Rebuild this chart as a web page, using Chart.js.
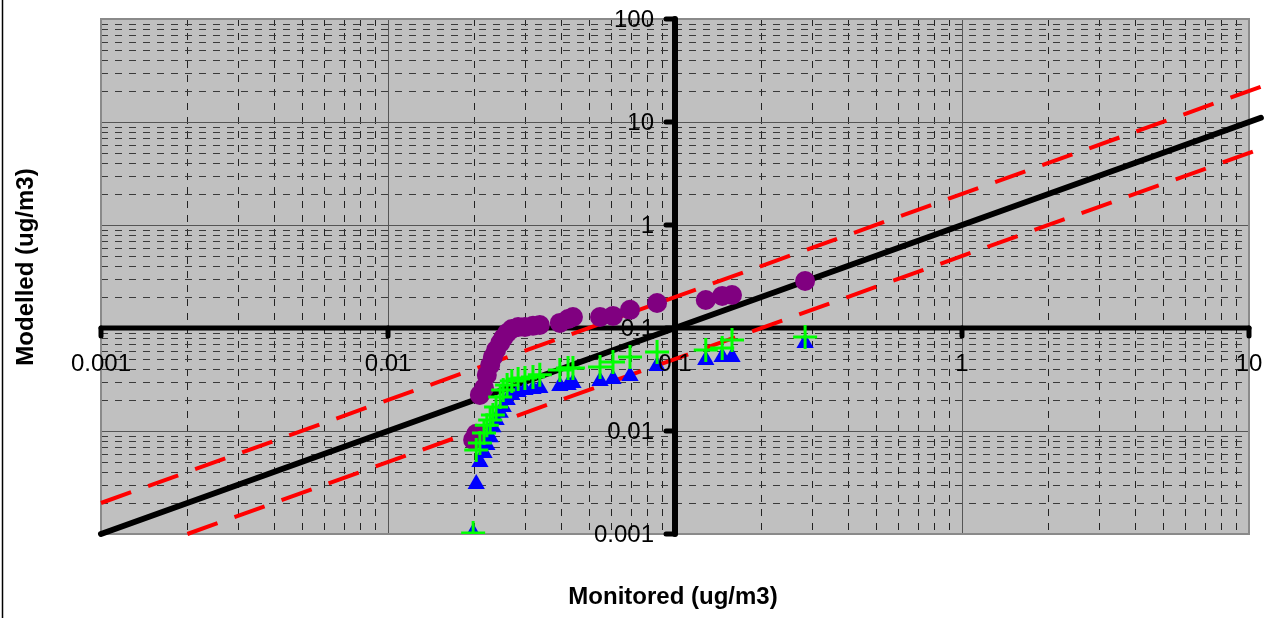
<!DOCTYPE html>
<html>
<head>
<meta charset="utf-8">
<script src="https://cdn.jsdelivr.net/npm/chart.js@4.4.1/dist/chart.umd.min.js"></script>
<style>
  html, body { margin: 0; padding: 0; background: #fff; }
  #wrap { width: 1287px; height: 618px; position: relative; }
</style>
</head>
<body>
<div id="wrap"><canvas id="grafico"></canvas></div>
<script>
// monitored values (sorted) and the three modelled series
const monitored = [0.0198, 0.0203, 0.0209, 0.0216, 0.0221, 0.0227, 0.0232, 0.0238, 0.0246, 0.0252,
  0.0260, 0.0270, 0.0284, 0.0300, 0.0320, 0.0338, 0.0397, 0.0424, 0.0441, 0.0548,
  0.0608, 0.0697, 0.0866, 0.128, 0.146, 0.158, 0.284];
const modelledCircle = [0.0082, 0.0094, 0.0224, 0.0261, 0.0350, 0.0437, 0.0523, 0.0611, 0.0715, 0.0800,
  0.0894, 0.0978, 0.102, 0.102, 0.105, 0.107, 0.112, 0.122, 0.128, 0.128,
  0.131, 0.150, 0.175, 0.187, 0.205, 0.209, 0.286];
const modelledTriangle = [0.00102, 0.00306, 0.0050, 0.0061, 0.0073, 0.0087, 0.0109, 0.0128, 0.0150, 0.0171,
  0.0200, 0.0224, 0.0239, 0.0250, 0.0256, 0.0261, 0.0273, 0.0280, 0.0292, 0.0306,
  0.0320, 0.0342, 0.0428, 0.0489, 0.0523, 0.0523, 0.0715];
const modelledPlus = [0.00102, 0.00654, 0.00765, 0.00956, 0.0114, 0.0128, 0.0143, 0.0171, 0.0214, 0.0250,
  0.0280, 0.0306, 0.0320, 0.0327, 0.0335, 0.0351, 0.0391, 0.0409, 0.0409, 0.0418,
  0.0468, 0.0523, 0.0585, 0.0611, 0.0640, 0.0764, 0.0818];

// 1:1 line and factor-of-two lines
const oneToOneX = [0.001, 11];
const oneToOneY = [0.001, 11];
const upperX = [0.001, 11];
const upperY = [0.002, 22];
const lowerX = [0.002, 11];
const lowerY = [0.001, 5.5];

const xTicks = [0.001, 0.01, 0.1, 1, 10];
const xTickLabels = ['0.001', '0.01', '0.1', '1', '10'];
const yTicks = [0.001, 0.01, 0.1, 1, 10, 100];
const yTickLabels = ['0.001', '0.01', '0.1', '1', '10', '100'];

const pares = (xs, ys) => xs.map((v, i) => ({x: v, y: ys[i]}));

const FONTE = '"Liberation Sans", Arial, sans-serif';

const moldura = {
  id: 'moldura',
  beforeDraw(chart) {
    const {ctx, chartArea: a, scales: {x, y}} = chart;
    ctx.save();
    ctx.fillStyle = '#fff';
    ctx.fillRect(0, 0, chart.width, chart.height);
    ctx.fillStyle = '#c0c0c0';
    ctx.fillRect(a.left, a.top, a.right - a.left, a.bottom - a.top);

    // minor grid (dashed)
    ctx.lineWidth = 1;
    ctx.strokeStyle = '#222';
    ctx.setLineDash([7, 7]);
    for (let d = -3; d < 1; d++) {
      for (let m = 2; m <= 9; m++) {
        const px = Math.round(x.getPixelForValue(m * Math.pow(10, d))) + 0.5;
        ctx.beginPath(); ctx.moveTo(px, a.top); ctx.lineTo(px, a.bottom); ctx.stroke();
      }
    }
    ctx.strokeStyle = '#3a3a3a';
    for (let d = -3; d < 2; d++) {
      for (let m = 2; m <= 9; m++) {
        const py = Math.round(y.getPixelForValue(m * Math.pow(10, d))) + 0.5;
        ctx.beginPath(); ctx.moveTo(a.left, py); ctx.lineTo(a.right, py); ctx.stroke();
      }
    }
    // major grid (solid)
    ctx.setLineDash([]);
    ctx.strokeStyle = '#555';
    xTicks.forEach(v => {
      const px = Math.round(x.getPixelForValue(v)) + 0.5;
      ctx.beginPath(); ctx.moveTo(px, a.top); ctx.lineTo(px, a.bottom); ctx.stroke();
    });
    yTicks.forEach(v => {
      const py = Math.round(y.getPixelForValue(v)) + 0.5;
      ctx.beginPath(); ctx.moveTo(a.left, py); ctx.lineTo(a.right, py); ctx.stroke();
    });
    ctx.strokeStyle = '#8a8a8a';
    ctx.lineWidth = 2;
    ctx.strokeRect(a.left, a.top, a.right - a.left, a.bottom - a.top);

    // outer chart border (left edge)
    ctx.strokeStyle = '#000';
    ctx.lineWidth = 1.5;
    ctx.beginPath(); ctx.moveTo(2.5, 0); ctx.lineTo(2.5, chart.height); ctx.stroke();
    ctx.restore();
  },
  beforeDatasetsDraw(chart) {
    const {ctx, chartArea: a, scales: {x, y}} = chart;
    const vx = x.getPixelForValue(0.1);
    const hy = y.getPixelForValue(0.1);
    ctx.save();
    ctx.strokeStyle = '#000';
    ctx.lineCap = 'round';
    ctx.lineWidth = 5;
    ctx.beginPath(); ctx.moveTo(a.left, hy); ctx.lineTo(a.right, hy); ctx.stroke();
    ctx.lineWidth = 6;
    ctx.beginPath(); ctx.moveTo(vx, a.top); ctx.lineTo(vx, a.bottom); ctx.stroke();
    ctx.lineWidth = 5;
    yTicks.forEach(v => {
      const py = y.getPixelForValue(v);
      ctx.beginPath(); ctx.moveTo(vx - 9, py); ctx.lineTo(vx, py); ctx.stroke();
    });
    xTicks.forEach(v => {
      const px = x.getPixelForValue(v);
      ctx.beginPath(); ctx.moveTo(px, hy); ctx.lineTo(px, hy + 8); ctx.stroke();
    });
    ctx.restore();
  },
  afterDatasetsDraw(chart) {
    const {ctx, scales: {x, y}} = chart;
    const vx = x.getPixelForValue(0.1);
    const hy = y.getPixelForValue(0.1);
    ctx.save();
    ctx.fillStyle = '#000';
    ctx.font = '24px ' + FONTE;
    ctx.textBaseline = 'middle';
    ctx.textAlign = 'center';
    xTicks.forEach((v, i) => ctx.fillText(xTickLabels[i], x.getPixelForValue(v), hy + 36));
    ctx.textAlign = 'right';
    yTicks.forEach((v, i) => ctx.fillText(yTickLabels[i], vx - 21, y.getPixelForValue(v) + 1));

    ctx.font = 'bold 24px ' + FONTE;
    ctx.textAlign = 'center';
    ctx.fillText('Monitored (ug/m3)', 673, 597);
    ctx.translate(26, 267);
    ctx.rotate(-Math.PI / 2);
    ctx.fillText('Modelled (ug/m3)', 0, 0);
    ctx.restore();
  }
};

new Chart(document.getElementById('grafico'), {
  type: 'scatter',
  data: {
    datasets: [
      {
        label: 'Plus',
        data: pares(monitored, modelledPlus),
        pointStyle: 'cross',
        pointRadius: 12,
        borderColor: '#00ff00',
        backgroundColor: '#00ff00',
        pointBorderWidth: 3,
        order: 0
      },
      {
        label: 'Triangle',
        data: pares(monitored, modelledTriangle),
        pointStyle: 'triangle',
        pointRadius: 10,
        borderColor: '#0000ff',
        backgroundColor: '#0000ff',
        pointBorderWidth: 0,
        order: 1
      },
      {
        label: 'Circle',
        data: pares(monitored, modelledCircle),
        pointStyle: 'circle',
        pointRadius: 10,
        borderColor: '#800080',
        backgroundColor: '#800080',
        pointBorderWidth: 0,
        order: 2
      },
      {
        label: '1:1',
        data: pares(oneToOneX, oneToOneY),
        showLine: true,
        pointRadius: 0,
        borderColor: '#000',
        borderWidth: 6,
        borderCapStyle: 'round',
        clip: false,
        order: 3
      },
      {
        label: 'x2',
        data: pares(upperX, upperY),
        showLine: true,
        pointRadius: 0,
        borderColor: '#ff0000',
        borderWidth: 4,
        borderDash: [32, 18],
        clip: false,
        order: 4
      },
      {
        label: 'x0.5',
        data: pares(lowerX, lowerY),
        showLine: true,
        pointRadius: 0,
        borderColor: '#ff0000',
        borderWidth: 4,
        borderDash: [32, 18],
        clip: false,
        order: 5
      }
    ]
  },
  options: {
    responsive: true,
    maintainAspectRatio: false,
    animation: false,
    layout: { padding: { left: 101, right: 38, top: 19, bottom: 84 } },
    scales: {
      x: { type: 'logarithmic', min: 0.001, max: 10, display: false },
      y: { type: 'logarithmic', min: 0.001, max: 100, display: false }
    },
    plugins: {
      legend: { display: false },
      tooltip: { enabled: false }
    }
  },
  plugins: [moldura]
});
</script>
</body>
</html>
